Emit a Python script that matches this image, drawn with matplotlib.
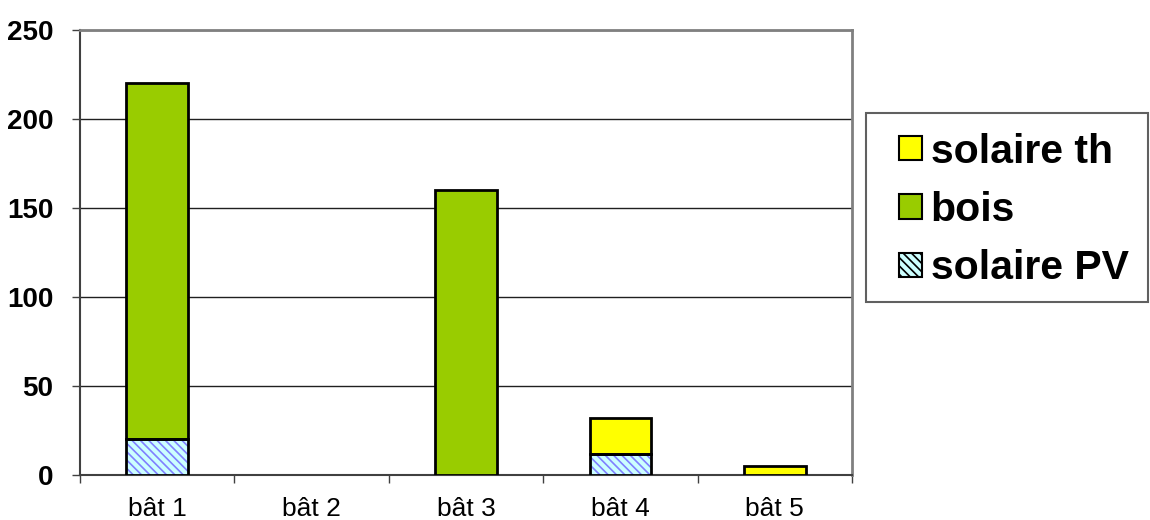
import numpy as np
import matplotlib.pyplot as plt
from matplotlib.patches import Patch, Rectangle

plt.rcParams['font.family'] = ['Liberation Sans', 'DejaVu Sans']
plt.rcParams['hatch.linewidth'] = 1.2

categories = ["bât 1", "bât 2", "bât 3", "bât 4", "bât 5"]
solaire_pv = [20, 0, 0, 12, 0]
bois = [200, 0, 160, 0, 0]
solaire_th = [0, 0, 0, 20, 5]
yticks = [0, 50, 100, 150, 200, 250]

PV_FACE = "#ccffff"
PV_HATCH = "#8080ff"
BOIS = "#99cc00"
TH = "#ffff00"
W = 0.4

fig = plt.figure(figsize=(11.5, 5.2), dpi=100)
ax = fig.add_axes([80 / 1150, 45 / 520, 772 / 1150, 445 / 520])

x = np.arange(len(categories))
pv = np.array(solaire_pv)
bo = np.array(bois)
th = np.array(solaire_th)

# hatched PV: fill + hatch, then black outline on top
ax.bar(x, pv, W, color=PV_FACE, edgecolor=PV_HATCH, hatch="\\\\\\\\", linewidth=0, zorder=3)
ax.bar(x, pv, W, fill=False, edgecolor="black", linewidth=2, zorder=4)
ax.bar(x, bo, W, bottom=pv, color=BOIS, edgecolor="black", linewidth=2, zorder=3)
ax.bar(x, th, W, bottom=pv + bo, color=TH, edgecolor="black", linewidth=2, zorder=3)

# zero-height segments would show as flat lines
for p in ax.patches:
    if p.get_height() == 0:
        p.set_visible(False)

ax.set_xlim(-0.5, len(categories) - 0.5)
ax.set_ylim(0, 250)
ax.set_yticks(yticks)
ax.set_yticklabels([str(v) for v in yticks], fontsize=20, fontweight="bold")
ax.set_xticks(x)
ax.set_xticklabels(categories, fontsize=19)
ax.set_xticks(np.arange(len(categories) + 1) - 0.5, minor=True)
ax.tick_params(axis="x", which="major", length=0, pad=16)
ax.tick_params(axis="x", which="minor", length=6, width=1, color="#404040")
ax.tick_params(axis="y", length=6, width=1, color="#404040", pad=13)

ax.yaxis.grid(True, color="#202020", linewidth=1, zorder=0)
ax.set_axisbelow(True)
for s in ("top", "right"):
    ax.spines[s].set_color("#808080")
    ax.spines[s].set_linewidth(2)
for s in ("left", "bottom"):
    ax.spines[s].set_color("#404040")
    ax.spines[s].set_linewidth(1.5)

# legend box drawn separately so its padding matches the original
fig.patches.append(Rectangle((866 / 1150, 1 - 302 / 520), 282 / 1150, 189 / 520,
                             transform=fig.transFigure, fill=False,
                             edgecolor="#606060", linewidth=1.5))
handles = [
    Patch(facecolor=TH, edgecolor="black", linewidth=1.5, label="solaire th"),
    Patch(facecolor=BOIS, edgecolor="black", linewidth=1.5, label="bois"),
    Patch(facecolor=PV_FACE, edgecolor="black", linewidth=1.5, hatch="\\\\\\\\", label="solaire PV"),
]
fig.legend(handles=handles, loc="center left", bbox_to_anchor=(899 / 1150, 1 - 210 / 520),
           prop={"size": 29.5, "weight": "bold"}, frameon=False,
           handlelength=0.55, handleheight=0.55, handletextpad=0.22,
           labelspacing=0.5, borderpad=0, borderaxespad=0)

fig.savefig("out.png", dpi=100)
